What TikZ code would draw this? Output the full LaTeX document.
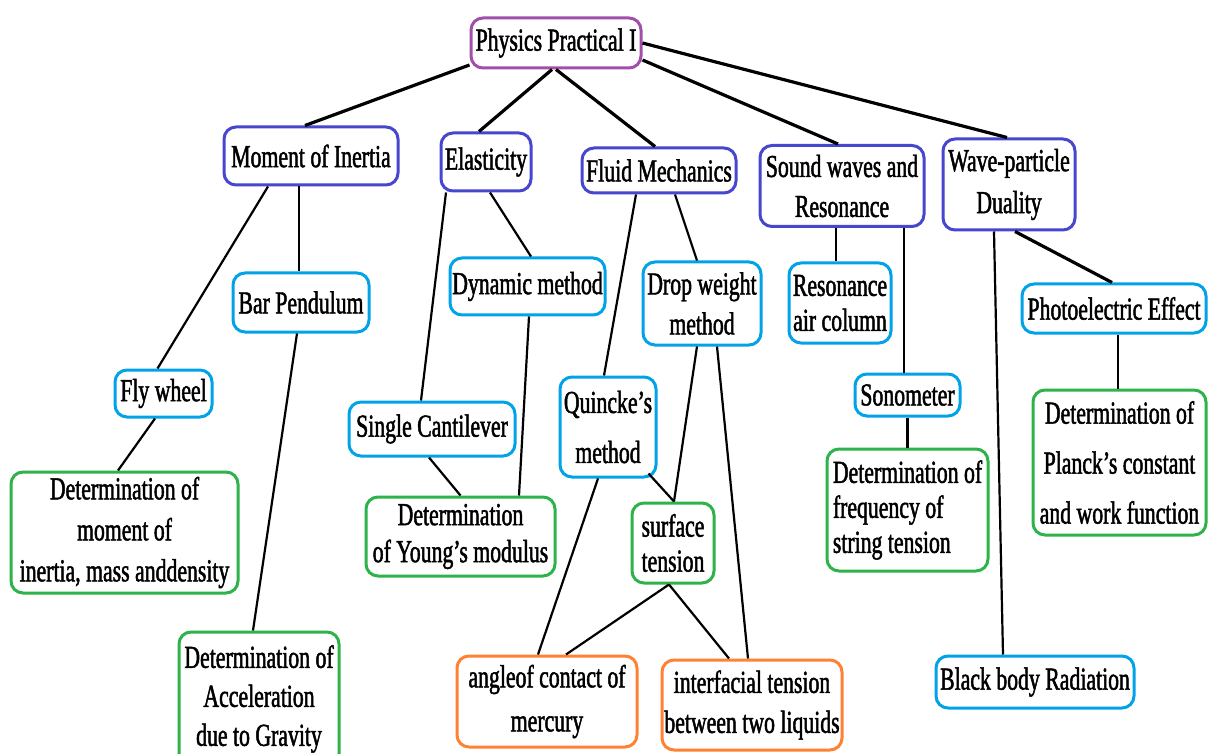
\documentclass[tikz,border=0pt]{standalone}
\usepackage{fontspec}
\setmainfont{Liberation Serif}[FakeStretch=0.68,FakeBold=1.5]
\definecolor{cPurple}{HTML}{A24FAA}
\definecolor{cBlue}{HTML}{4646CF}
\definecolor{cCyan}{HTML}{00A2E8}
\definecolor{cGreen}{HTML}{2DB34A}
\definecolor{cOrange}{HTML}{FF8233}
\begin{document}
\begin{tikzpicture}[x=1pt,y=-1pt,
  box/.style={draw=#1, line width=3pt, rounded corners=12pt, inner sep=0pt, align=center, text=black, fill=white},
  lskip/.style={font=\fontsize{32}{#1}\selectfont},
  lskip/.default=40,
  conn/.style={line width=2.2pt, black},
  mainconn/.style={line width=3.2pt, black}]
\useasboundingbox (0,0) rectangle (1211,754);
\fill[white] (0,0) rectangle (1211,754);
\clip (0,0) rectangle (1211,754);

% level 0
\node[box=cPurple, lskip, minimum width=170pt, minimum height=50pt] (root) at (556,43) {Physics Practical I};
% level 1
\node[box=cBlue, lskip, minimum width=174pt, minimum height=58pt] (moi) at (311,156) {Moment of Inertia};
\node[box=cBlue, lskip, minimum width=90pt, minimum height=58pt] (elas) at (486,162) {Elasticity};
\node[box=cBlue, lskip, minimum width=154pt, minimum height=45pt] (fluid) at (659,170.5) {Fluid Mechanics};
\node[box=cBlue, lskip=40, minimum width=164pt, minimum height=81pt] (sound) at (842,186) {Sound waves and\\Resonance};
\node[box=cBlue, lskip=42, minimum width=132pt, minimum height=91pt] (wave) at (1009,184.5) {Wave-particle\\Duality};
% level 2
\node[box=cCyan, lskip, minimum width=136pt, minimum height=59pt] (barp) at (301,302.5) {Bar Pendulum};
\node[box=cCyan, lskip, minimum width=155pt, minimum height=57pt] (dyn) at (527.5,286.5) {Dynamic method};
\node[box=cCyan, lskip=40, minimum width=118pt, minimum height=83pt] (drop) at (702,303.5) {Drop weight\\method};
\node[box=cCyan, lskip=35, minimum width=102pt, minimum height=80pt] (resair) at (840,303) {Resonance\\air column};
\node[box=cCyan, lskip, minimum width=184pt, minimum height=49pt] (photo) at (1114,308.5) {Photoelectric Effect};
\node[box=cCyan, lskip, minimum width=97pt, minimum height=47pt] (fly) at (163.5,393.5) {Fly wheel};
\node[box=cCyan, lskip, minimum width=166pt, minimum height=54pt] (singlec) at (432,429) {Single Cantilever};
\node[box=cCyan, lskip=50, minimum width=96pt, minimum height=100pt] (quincke) at (608,427) {Quincke’s\\method};
\node[box=cCyan, lskip, minimum width=105pt, minimum height=42pt] (sono) at (907.5,395) {Sonometer};
\node[box=cCyan, lskip, minimum width=198pt, minimum height=52pt] (black) at (1035,682) {Black body Radiation};
% green
\node[box=cGreen, lskip=50, minimum width=173pt, minimum height=145pt] (planck) at (1119.5,462.5) {Determination of\\Planck’s constant\\and work function};
\node[box=cGreen, lskip=41, minimum width=227pt, minimum height=121pt] (momdet) at (124.5,532.5) {Determination of\\moment of\\inertia, mass anddensity};
\node[box=cGreen, lskip=37, minimum width=189pt, minimum height=79pt] (young) at (460.5,536.5) {Determination\\of Young’s modulus};
\node[box=cGreen, lskip=35, minimum width=82pt, minimum height=80pt] (surf) at (673,543) {surface\\tension};
\node[box=cGreen, lskip=35, align=left, minimum width=161pt, minimum height=122pt] (freq) at (907.5,510) {Determination of\\frequency of\\string tension};
\node[box=cGreen, lskip=39, minimum width=160pt, minimum height=134pt] (accel) at (259,699) {Determination of\\Acceleration\\due to Gravity};
% orange
\node[box=cOrange, lskip=44, minimum width=180pt, minimum height=91pt] (angle) at (547,701.5) {angleof contact of\\mercury};
\node[box=cOrange, lskip=40, minimum width=180pt, minimum height=90pt] (inter) at (752,705) {interfacial tension\\between two liquids};

% connectors from root
\draw[mainconn] ([yshift=-22pt]root.west) -- ([xshift=-6pt]moi.north);
\draw[mainconn] ([xshift=-4pt]root.south) -- ([xshift=-7pt]elas.north);
\draw[mainconn] (root.south) -- ([xshift=-4pt]fluid.north);
\draw[mainconn] ([yshift=-17pt]root.east) -- ([xshift=-4pt]sound.north);
\draw[mainconn] (root.east) -- ([xshift=-2pt]wave.north);
% moment of inertia
\draw[conn] ([xshift=-43pt]moi.south) -- ([xshift=-6pt]fly.north);
\draw[conn] ([xshift=-12pt]moi.south) -- ([xshift=-2pt]barp.north);
\draw[conn] ([xshift=-4pt]barp.south) -- ([xshift=-6pt]accel.north);
\draw[conn] ([xshift=-8.5pt]fly.south) -- ([xshift=-6.5pt]momdet.north);
% elasticity
\draw[conn] ([xshift=-40pt]elas.south) -- ([xshift=-11pt]singlec.north);
\draw[conn] ([xshift=4pt]elas.south) -- ([xshift=3.5pt]dyn.north);
\draw[conn] ([xshift=1.5pt]dyn.south) -- ([xshift=58.5pt]young.north);
\draw[conn] ([xshift=-3pt]singlec.south) -- (young.north);
% fluid mechanics
\draw[conn] ([xshift=-23pt]fluid.south) -- ([xshift=-4pt]quincke.north);
\draw[conn] ([xshift=16pt]fluid.south) -- ([xshift=-5pt]drop.north);
\draw[conn] ([xshift=-5pt]drop.south) -- ([xshift=1pt]surf.north);
\draw[conn] ([xshift=15pt]drop.south) -- ([xshift=-4pt]inter.north);
\draw[conn] ([xshift=-9pt,yshift=5pt]quincke.south east) -- ([xshift=1pt]surf.north);
\draw[conn] ([xshift=-10pt]quincke.south) -- ([xshift=-9pt]angle.north);
\draw[conn] ([xshift=-4pt]surf.south) -- ([xshift=19pt]angle.north);
\draw[conn] ([xshift=-4pt]surf.south) -- ([xshift=-23pt]inter.north);
% sound
\draw[conn] ([xshift=-6pt]sound.south) -- ([xshift=-4pt]resair.north);
\draw[conn] ([xshift=62pt]sound.south) -- ([xshift=-3.5pt]sono.north);
\draw[conn] (sono.south) -- (freq.north);
% wave-particle
\draw[conn] ([xshift=-15pt]wave.south) -- ([xshift=-32pt]black.north);
\draw[mainconn] ([xshift=6pt]wave.south) -- ([xshift=-2pt]photo.north);
\draw[conn] ([xshift=4pt]photo.south) -- ([xshift=-1.5pt]planck.north);
\end{tikzpicture}
\end{document}
